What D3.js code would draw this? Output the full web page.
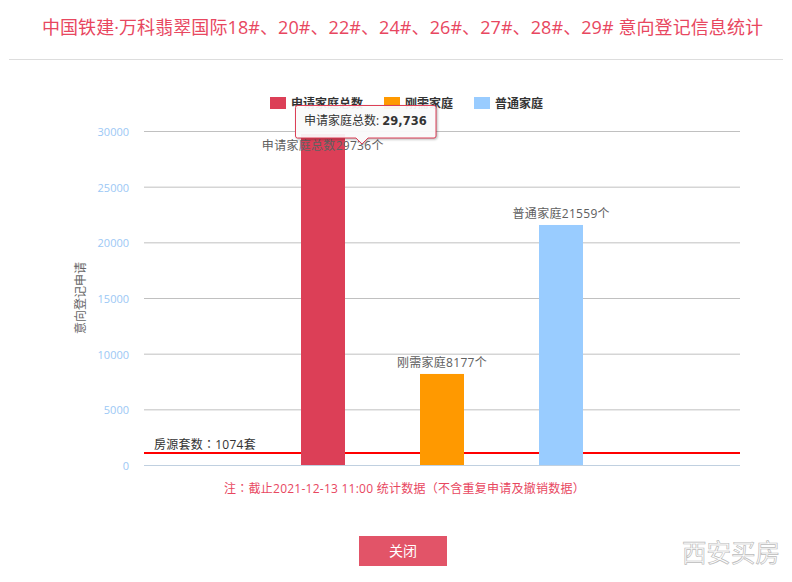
<!DOCTYPE html>
<html>
<head>
<meta charset="utf-8">
<script src="https://cdn.jsdelivr.net/npm/d3@7"></script>
<style>
  html, body { margin: 0; padding: 0; background: #fff; }
  svg { display: block; }
  text { font-family: "Open Sans", "Noto Sans CJK SC", sans-serif; }
  .tc { font-family: "Open Sans", "Noto Sans CJK TC", sans-serif; }
</style>
</head>
<body>
<script>
// chart values
var slots = ["a", "申请家庭总数", "刚需家庭", "普通家庭", "b"];
var names = ["申请家庭总数", "刚需家庭", "普通家庭"];
var values = [29736, 8177, 21559];
var colors = ["#DC3F57", "#FF9900", "#99CCFF"];
var yTicks = [0, 5000, 10000, 15000, 20000, 25000, 30000];
var houseCount = 1074;

var titleText = "中国铁建·万科翡翠国际18#、20#、22#、24#、26#、27#、28#、29# 意向登记信息统计";
var noteText = "注：截止2021-12-13 11:00 统计数据（不含重复申请及撤销数据）";

var svg = d3.select("body").append("svg")
  .attr("width", 792)
  .attr("height", 582);

var x = d3.scaleBand().domain(slots).range([144, 740]);
var y = d3.scaleLinear().domain([0, 30000]).range([465, 131]);
var barWidth = 44;

// title and rule under it
svg.append("text")
  .attr("x", 402.5).attr("y", 34)
  .attr("text-anchor", "middle")
  .attr("font-size", 18)
  .attr("letter-spacing", 0.08)
  .attr("fill", "#E8475F")
  .text(titleText);

svg.append("line")
  .attr("x1", 9).attr("x2", 783)
  .attr("y1", 59.5).attr("y2", 59.5)
  .attr("stroke", "#DDDDDD");

// y axis
var yAxis = d3.axisLeft(y).tickValues(yTicks).tickSize(0).tickPadding(15).tickFormat(d3.format("d"));
var axisG = svg.append("g").attr("transform", "translate(144,0)").call(yAxis);
axisG.select(".domain").remove();
axisG.selectAll("text")
  .attr("font-size", 11)
  .attr("dy", "0.42em")
  .attr("fill", "#9CC8F5");

// gridlines
svg.append("g").selectAll("line")
  .data(yTicks)
  .enter()
  .append("line")
  .attr("x1", 144).attr("x2", 740)
  .attr("y1", d => y(d) + 0.5).attr("y2", d => y(d) + 0.5)
  .attr("stroke", d => d === 0 ? "#C0D0E0" : "#C0C0C0");

svg.append("text")
  .attr("transform", "translate(85,298) rotate(-90)")
  .attr("text-anchor", "middle")
  .attr("font-size", 12)
  .attr("fill", "#666666")
  .text("意向登记申请");

// house count line, sits behind the bars
svg.append("line")
  .attr("x1", 144).attr("x2", 740)
  .attr("y1", Math.round(y(houseCount))).attr("y2", Math.round(y(houseCount)))
  .attr("stroke", "#FF0000")
  .attr("stroke-width", 2);

// bars
svg.append("g").selectAll("rect")
  .data(values)
  .enter()
  .append("rect")
  .attr("x", (d, i) => Math.round(x(names[i]) + x.bandwidth() / 2 - barWidth / 2))
  .attr("y", d => y(d))
  .attr("width", barWidth)
  .attr("height", d => y(0) - y(d))
  .attr("fill", (d, i) => colors[i]);

// data labels
svg.append("g").selectAll("text")
  .data(values)
  .enter()
  .append("text")
  .attr("x", (d, i) => x(names[i]) + x.bandwidth() / 2)
  .attr("y", d => y(d) - 7 + (d === 29736 ? 23 : 0))
  .attr("text-anchor", "middle")
  .attr("font-size", 12)
  .attr("letter-spacing", 0.3)
  .attr("fill", "#606060")
  .text((d, i) => names[i] + d + "个");

svg.append("text")
  .attr("class", "tc")
  .attr("x", 154).attr("y", 449)
  .attr("font-size", 12)
  .attr("letter-spacing", 0.25)
  .attr("fill", "#333333")
  .text("房源套数：" + houseCount + "套");

// legend
var legendX = [270, 384, 474];
var legend = svg.append("g").selectAll("g")
  .data(names)
  .enter()
  .append("g")
  .attr("transform", (d, i) => "translate(" + legendX[i] + ",97)");
legend.append("rect")
  .attr("width", 16).attr("height", 12)
  .attr("fill", (d, i) => colors[i]);
legend.append("text")
  .attr("x", 21).attr("y", 11)
  .attr("font-size", 12)
  .attr("font-weight", "bold")
  .attr("fill", "#333333")
  .text(d => d);

// tooltip on the first bar
var tip = svg.append("g");
tip.append("path")
  .attr("d", "M297.5,105.5H434a2,2 0 0 1 2,2V136a2,2 0 0 1 -2,2H368l-6,6l-6,-6H297.5a2,2 0 0 1 -2,-2V107.5a2,2 0 0 1 2,-2Z")
  .attr("fill", "#FFFFFF")
  .attr("fill-opacity", 0.92)
  .attr("stroke", "#DC3F57")
  .attr("stroke-width", 1)
  .style("filter", "drop-shadow(1px 1px 1px rgba(0,0,0,0.3))");
var tipText = tip.append("text")
  .attr("x", 304).attr("y", 125)
  .attr("font-size", 12)
  .attr("fill", "#333333");
tipText.append("tspan").text(names[0] + ": ");
tipText.append("tspan")
  .attr("font-weight", "bold")
  .attr("font-size", 11.5)
  .style("font-family", "'DejaVu Sans', sans-serif")
  .text(d3.format(",")(values[0]));

// footnote
svg.append("text")
  .attr("class", "tc")
  .attr("x", 404.5).attr("y", 493)
  .attr("text-anchor", "middle")
  .attr("font-size", 12)
  .attr("letter-spacing", 0.25)
  .attr("fill", "#E8475F")
  .text(noteText);

// close button
svg.append("rect")
  .attr("x", 359).attr("y", 536)
  .attr("width", 88).attr("height", 30)
  .attr("fill", "#E25468");
svg.append("text")
  .attr("x", 403).attr("y", 556)
  .attr("text-anchor", "middle")
  .attr("font-size", 14)
  .attr("fill", "#FFFFFF")
  .text("关闭");

// watermark
svg.append("text")
  .attr("x", 731).attr("y", 562)
  .attr("text-anchor", "middle")
  .attr("font-size", 24.5)
  .attr("fill", "#FFFFFF")
  .attr("stroke", "#BBBBBB")
  .attr("stroke-width", 0.7)
  .text("西安买房");
</script>
</body>
</html>
